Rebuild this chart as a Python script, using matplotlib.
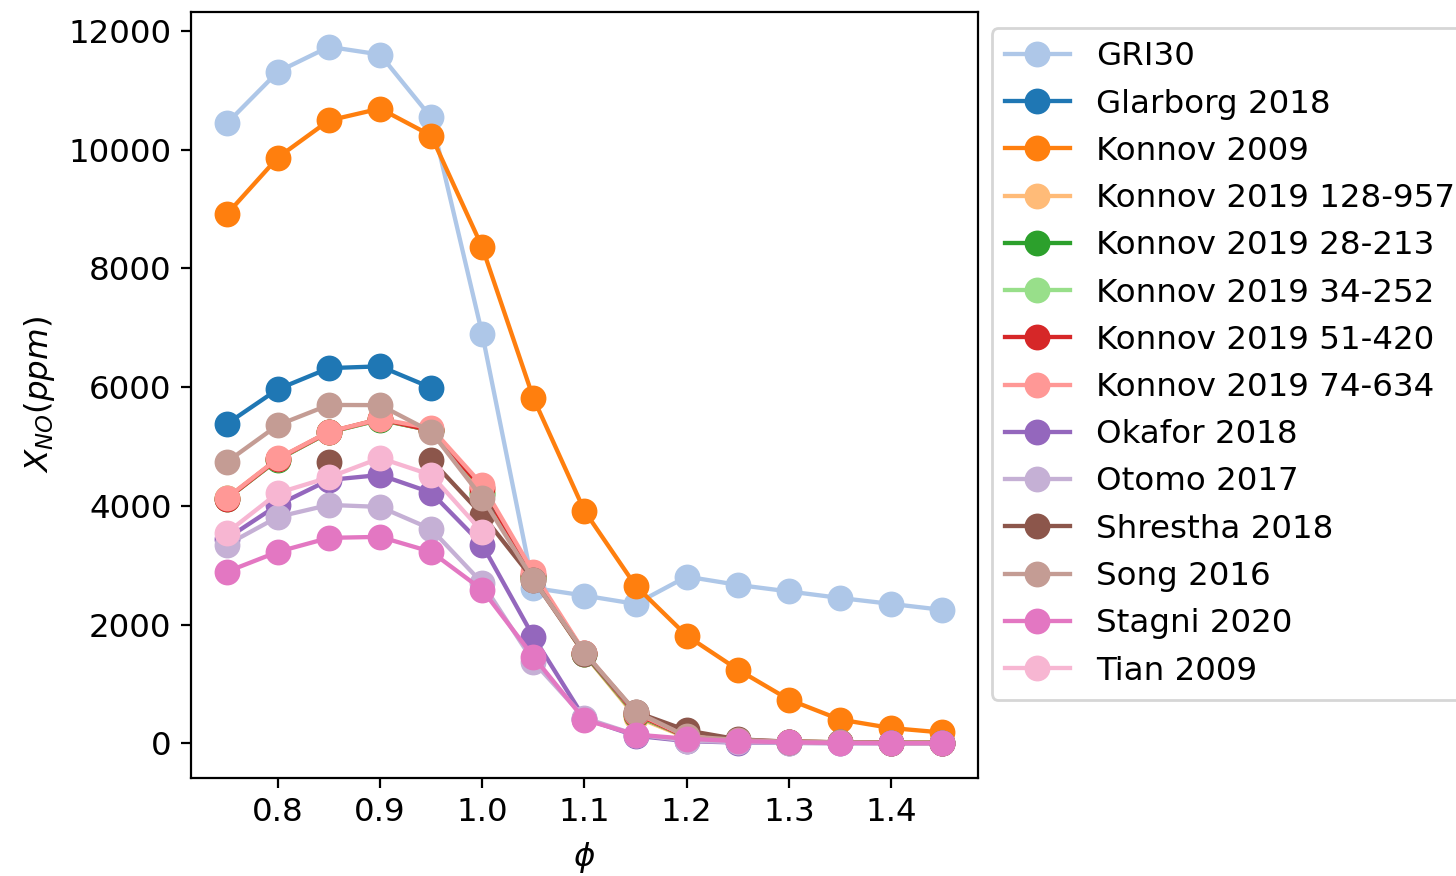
import numpy as np
import matplotlib
matplotlib.use('Agg')
import matplotlib.pyplot as plt

nan = np.nan

# equivalence ratio
phi = [0.75, 0.80, 0.85, 0.90, 0.95, 1.00, 1.05, 1.10, 1.15, 1.20, 1.25, 1.30, 1.35, 1.40, 1.45]

# X_NO in ppm
gri30 = [10440, 11310, 11730, 11600, 10540, 6890, 2620, 2490, 2350, 2810, 2670, 2560, 2450, 2350, 2250]
glarborg_2018 = [5380, 5966, 6320, 6350, 5990, nan, nan, nan, nan, nan, nan, nan, nan, nan, nan]
konnov_2009 = [8910, 9866, 10490, 10690, 10235, 8353, 5815, 3916, 2655, 1815, 1244, 739, 403, 260, 185]
konnov_2019_128 = [4130, 4790, 5244, 5462, 5277, 4250, 2780, 1500, 450, 100, 50, 30, 20, 10, 10]
konnov_2019_28 = [4120, 4780, 5240, 5450, 5270, 4200, 2800, 1510, 480, 110, 50, 30, 20, 10, 10]
konnov_2019_34 = [4125, 4785, 5242, 5455, 5272, 4220, 2810, 1515, 490, 110, 50, 30, 20, 10, 10]
konnov_2019_51 = [4120, 4790, 5244, 5460, 5270, 4300, 2830, 1520, 500, 110, 50, 30, 20, 10, 10]
konnov_2019_74 = [4134, 4800, 5250, 5462, 5311, 4353, 2880, 1530, 520, 120, 60, 30, 20, 10, 10]
okafor_2018 = [3450, 4017, 4437, 4521, 4225, 3345, 1798, 420, 130, 40, 15, 10, 5, 5, 5]
otomo_2017 = [3345, 3815, 4017, 3983, 3610, 2700, 1378, 430, 150, 50, 20, 10, 5, 5, 5]
shrestha_2018 = [nan, nan, 4740, nan, 4773, 3849, 2760, 1510, 530, 220, 70, 30, 20, 10, 10]
song_2016 = [4740, 5361, 5700, 5697, 5250, 4134, 2756, 1529, 538, 120, 60, 30, 20, 10, 10]
stagni_2020 = [2891, 3227, 3462, 3479, 3227, 2588, 1462, 400, 150, 80, 40, 20, 10, 5, 5]
tian_2009 = [3546, 4218, 4480, 4807, 4521, 3563, nan, nan, nan, nan, nan, nan, nan, nan, nan]

labels = ['GRI30', 'Glarborg 2018', 'Konnov 2009', 'Konnov 2019 128-957',
          'Konnov 2019 28-213', 'Konnov 2019 34-252', 'Konnov 2019 51-420',
          'Konnov 2019 74-634', 'Okafor 2018', 'Otomo 2017', 'Shrestha 2018',
          'Song 2016', 'Stagni 2020', 'Tian 2009']
series = [gri30, glarborg_2018, konnov_2009, konnov_2019_128, konnov_2019_28,
          konnov_2019_34, konnov_2019_51, konnov_2019_74, okafor_2018, otomo_2017,
          shrestha_2018, song_2016, stagni_2020, tian_2009]

plt.rcParams['font.size'] = 11.7

fig = plt.figure(figsize=(7.28, 4.38), dpi=200)
ax = fig.add_axes([191 / 1456, 98 / 876, 787 / 1456, 766 / 876])

# tab20, but GRI30 took the light blue and Glarborg the dark one
colors = list(plt.cm.tab20.colors)
colors[0], colors[1] = colors[1], colors[0]
for i, (lab, y) in enumerate(zip(labels, series)):
    ax.plot(phi, y, '-o', color=colors[i], label=lab, markersize=8.3, linewidth=1.55)

ax.set_xlabel(r'$\phi$')
ax.set_ylabel(r'$X_{NO} (ppm)$')
ax.set_yticks([0, 2000, 4000, 6000, 8000, 10000, 12000])
ax.legend(loc='upper left', bbox_to_anchor=(0.997, 1.0), handlelength=2.0)

fig.savefig('out.png', dpi=200)
